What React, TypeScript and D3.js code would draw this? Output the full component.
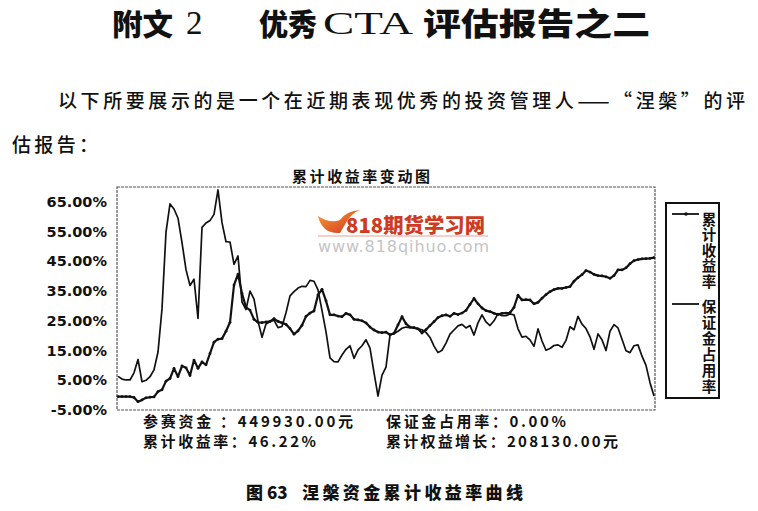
import React from 'react';
import * as d3 from 'd3';

// 累计收益率 (%)
const cumulativeReturn: number[] = [
  -0.5, -0.5, -0.5, -0.5, -0.8, -2.2, -1.6, -0.9, -0.7, -0.6,
  1.2, 1.8, 4.7, 5.6, 9.0, 6.2, 9.8, 9.2, 6.6, 11.8,
  9.0, 11.2, 10.2, 14.0, 17.8, 18.8, 19.0, 21.5, 24.5, 37.0,
  40.7, 34.2, 29.5, 28.6, 25.5, 24.5, 24.4, 24.6, 24.8, 25.7,
  24.8, 24.3, 23.8, 22.4, 20.5, 21.6, 23.5, 26.5, 27.6, 28.3,
  33.7, 35.6, 31.7, 27.0, 27.0, 26.6, 26.4, 27.5, 27.0, 25.5,
  25.3, 25.0, 24.3, 22.9, 21.9, 21.2, 21.0, 21.2, 20.3, 20.8,
  23.6, 26.4, 24.0, 22.9, 22.7, 22.3, 20.9, 22.0, 23.4, 24.7,
  26.1, 26.7, 27.0, 26.5, 27.5, 27.1, 27.6, 28.5, 30.5, 32.5,
  30.7, 29.3, 28.4, 28.1, 27.5, 27.1, 27.5, 27.6, 27.7, 29.5,
  33.6, 32.0, 32.1, 32.0, 30.7, 31.2, 32.6, 33.8, 34.8, 35.5,
  35.9, 35.9, 36.2, 36.5, 38.3, 39.5, 40.5, 41.9, 41.4, 40.6,
  40.2, 40.1, 39.8, 39.3, 40.2, 42.1, 42.1, 42.8, 44.2, 45.2,
  45.6, 45.8, 45.9, 46.0, 46.22,
];

// 保证金占用率 (%)
const marginUsage: number[] = [
  6.3, 5.4, 5.1, 5.1, 7.5, 12.0, 4.5, 5.0, 6.2, 8.5,
  14.5, 29.0, 54.8, 64.3, 62.6, 59.5, 51.3, 42.2, 36.9, 39.0,
  25.8, 56.4, 57.9, 58.7, 60.8, 69.0, 58.0, 51.6, 51.5, 44.0,
  46.8, 31.3, 28.8, 35.0, 32.3, 24.9, 19.5, 23.9, 24.7, 25.2,
  22.7, 23.1, 27.7, 33.4, 34.8, 36.0, 36.6, 36.5, 38.6, 38.3,
  35.4, 28.4, 21.3, 12.5, 11.3, 11.2, 13.5, 15.4, 16.6, 12.4,
  15.2, 16.6, 18.6, 15.8, 7.6, -0.3, 6.7, 9.4, 20.2, 20.7,
  21.5, 22.5, 22.9, 22.7, 22.6, 22.3, 22.0, 21.1, 19.4, 16.5,
  14.3, 15.1, 17.5, 20.5, 21.9, 23.3, 23.8, 22.6, 23.4, 20.2,
  24.3, 27.0, 24.6, 23.4, 25.0, 27.4, 26.7, 26.7, 27.3, 27.0,
  22.3, 19.5, 19.8, 18.6, 16.4, 22.3, 18.2, 15.1, 15.7, 16.7,
  16.9, 16.1, 18.4, 23.0, 22.0, 26.5, 23.9, 22.4, 19.6, 15.4,
  20.6, 18.6, 15.0, 21.5, 23.7, 22.6, 18.8, 14.9, 14.3, 16.6,
  16.9, 13.1, 10.0, 4.2, -0.3,
];

const yTicks: number[] = [-5, 5, 15, 25, 35, 45, 55, 65];
const legendLabels: string[] = ['累计收益率', '保证金占用率'];
const chartTitle = '累计收益率变动图';
const pageTitleParts = ['附文', '2', '优秀', 'CTA', '评估报告之二'];
const bodyLines = ['以下所要展示的是一个在近期表现优秀的投资管理人——“涅槃”的评', '估报告：'];
const statsRow1 = ['参赛资金 ：449930.00元', '保证金占用率：0.00%'];
const statsRow2 = ['累计收益率：46.22%', '累计权益增长：208130.00元'];
const captionParts = ['图 63', '涅槃资金累计收益率曲线'];
const watermark = ['818期货学习网', 'www.818qihuo.com'];

const CJK = "'Noto Sans CJK SC', sans-serif";
const SERIF = "'Liberation Serif', 'DejaVu Serif', serif";

export default function App() {
  const W = 758;
  const H = 511;
  const plot = { left: 117, right: 655, top: 187, bottom: 410 };
  const n = cumulativeReturn.length;

  const x = d3.scaleLinear().domain([0, n - 1]).range([118, 654]);
  const y = d3.scaleLinear().domain([-5, 70]).range([plot.bottom, plot.top]);

  const line = d3
    .line<number>()
    .x((_, i) => x(i))
    .y((d) => y(d))
    .curve(d3.curveLinear);

  const legendX = 666;
  const legendY = 203;
  const legendW = 53;
  const legendH = 195;

  return (
    <svg
      width={W}
      height={H}
      viewBox={`0 0 ${W} ${H}`}
      style={{ position: 'absolute', left: 0, top: 0, background: '#fff' }}
    >
      <rect x={0} y={0} width={W} height={H} fill="#fff" />

      {/* page title */}
      <g fill="#111">
        <text x={112} y={35} fontFamily={CJK} fontWeight={900} fontSize={30} textLength={61} lengthAdjust="spacingAndGlyphs">
          {pageTitleParts[0]}
        </text>
        <text x={186} y={34} fontFamily={SERIF} fontSize={33}>
          {pageTitleParts[1]}
        </text>
        <text x={259} y={35} fontFamily={CJK} fontWeight={900} fontSize={30} textLength={58} lengthAdjust="spacingAndGlyphs">
          {pageTitleParts[2]}
        </text>
        <text x={323} y={34} fontFamily={SERIF} fontSize={32} textLength={90} lengthAdjust="spacingAndGlyphs">
          {pageTitleParts[3]}
        </text>
        <text x={423} y={35} fontFamily={CJK} fontWeight={900} fontSize={31} textLength={227} lengthAdjust="spacingAndGlyphs">
          {pageTitleParts[4]}
        </text>
      </g>

      {/* body text */}
      <g fill="#111" fontFamily={CJK} fontWeight={500} fontSize={19}>
        <text x={58} y={108} textLength={687} lengthAdjust="spacing">
          {bodyLines[0]}
        </text>
        <text x={12} y={152} textLength={86} lengthAdjust="spacing">
          {bodyLines[1]}
        </text>
      </g>

      {/* chart title */}
      <text x={292} y={182} fontFamily={CJK} fontWeight={700} fontSize={15} fill="#111" textLength={138} lengthAdjust="spacing">
        {chartTitle}
      </text>

      {/* watermark */}
      <g>
        <defs>
          <linearGradient id="wm" x1="0" x2="1" y1="0" y2="1">
            <stop offset="0%" stopColor="#f4a23a" />
            <stop offset="100%" stopColor="#d6301c" />
          </linearGradient>
        </defs>
        <path d="M318,216 Q322,234 340,233 L347,221 Q352,213 360,210 Q346,211 340,220 Q330,224 318,216 Z" fill="url(#wm)" />
        <text x={346} y={233} fontFamily={CJK} fontWeight={900} fontSize={20} fill="#cf3b22" textLength={139} lengthAdjust="spacingAndGlyphs">
          {watermark[0]}
        </text>
        <line x1={318} x2={488} y1={236} y2={236} stroke="#e08a7a" strokeWidth={0.8} />
        <text x={318} y={252} fontFamily="'DejaVu Sans', sans-serif" fontSize={16} fill="#c4c4c4" textLength={171} lengthAdjust="spacing">
          {watermark[1]}
        </text>
      </g>

      {/* plot frame */}
      <rect
        x={plot.left}
        y={plot.top}
        width={plot.right - plot.left}
        height={plot.bottom - plot.top}
        fill="none"
        stroke="#555"
        strokeWidth={1.2}
        strokeDasharray="3 1"
      />

      {/* y axis labels */}
      <g fontFamily="'DejaVu Sans', sans-serif" fontWeight={700} fontSize={14.5} fill="#111" textAnchor="end">
        {yTicks.map((t) => (
          <text key={t} x={107} y={y(t) + 5}>
            {`${t.toFixed(2)}%`}
          </text>
        ))}
      </g>

      {/* series */}
      <path d={line(marginUsage) || ''} fill="none" stroke="#111" strokeWidth={1.7} strokeLinejoin="round" />
      <path d={line(cumulativeReturn) || ''} fill="none" stroke="#111" strokeWidth={2.2} strokeLinejoin="round" />
      <g fill="#111">
        {cumulativeReturn.map((d, i) => (
          <circle key={i} cx={x(i)} cy={y(d)} r={1.4} />
        ))}
      </g>

      {/* legend */}
      <rect x={legendX} y={legendY} width={legendW} height={legendH} fill="#fff" stroke="#111" strokeWidth={2} />
      <line x1={672} x2={699} y1={214} y2={214} stroke="#111" strokeWidth={1.8} />
      <circle cx={686} cy={214} r={1.8} fill="#111" />
      <line x1={672} x2={699} y1={304} y2={304} stroke="#111" strokeWidth={1.8} />
      <g fontFamily={CJK} fontWeight={700} fontSize={14.5} fill="#111">
        <text x={709} y={212} style={{ writingMode: 'vertical-rl' }} letterSpacing={1}>
          {legendLabels[0]}
        </text>
        <text x={709} y={299} style={{ writingMode: 'vertical-rl' }} letterSpacing={1.5}>
          {legendLabels[1]}
        </text>
      </g>

      {/* stats */}
      <g fontFamily={CJK} fontWeight={700} fontSize={15} fill="#111">
        <text x={143} y={427} textLength={210} lengthAdjust="spacing">{statsRow1[0]}</text>
        <text x={386} y={427} textLength={180} lengthAdjust="spacing">{statsRow1[1]}</text>
        <text x={143} y={447} textLength={173} lengthAdjust="spacing">{statsRow2[0]}</text>
        <text x={386} y={447} textLength={232} lengthAdjust="spacing">{statsRow2[1]}</text>
      </g>

      {/* caption */}
      <g fontFamily={CJK} fontWeight={900} fontSize={17} fill="#111">
        <text x={246} y={499}>{captionParts[0]}</text>
        <text x={302} y={499} textLength={221} lengthAdjust="spacing">{captionParts[1]}</text>
      </g>
    </svg>
  );
}
